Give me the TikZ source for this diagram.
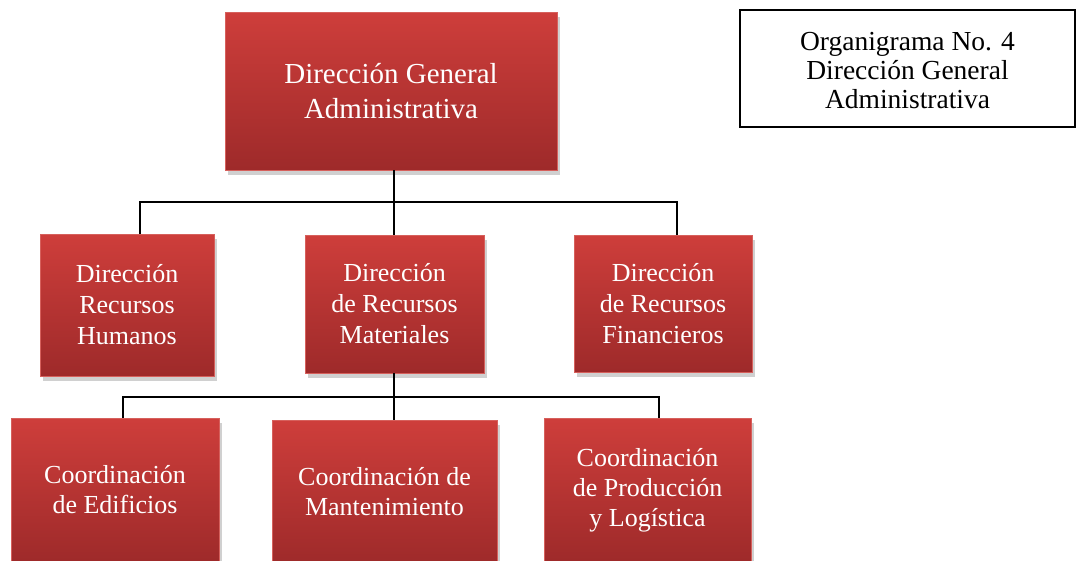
\documentclass[tikz,border=0pt]{standalone}
\usepackage{fontspec}
\setmainfont{Liberation Serif}
\usetikzlibrary{shadows}
\definecolor{redtop}{RGB}{206,62,59}
\definecolor{redbot}{RGB}{158,42,42}
\definecolor{redline}{RGB}{214,96,92}
\tikzset{
  redbox/.style={draw=redline, line width=0.8pt, top color=redtop, bottom color=redbot,
    text=white, align=center, inner sep=2pt,
    drop shadow={shadow xshift=3pt, shadow yshift=-5pt, opacity=0.3, fill=black!60}},
  legendbox/.style={draw=black, line width=1.5pt, fill=white, align=center, inner sep=2pt},
  conn/.style={draw=black, line width=2pt}
}
\begin{document}
\begin{tikzpicture}[x=1pt,y=-1pt]
\useasboundingbox (0,0) rectangle (1078,560);
\clip (0,0) rectangle (1078,560);
\fill[white] (0,0) rectangle (1078,560);
% nodes
\node[redbox, minimum width=332pt, minimum height=158pt, font=\fontsize{29}{35}\selectfont] (top) at (391,91) {Dirección General\\Administrativa};
\node[legendbox, minimum width=335pt, minimum height=117pt] (leg) at (907.5,68.5) {};
\node[align=center, font=\fontsize{27.5}{29}\selectfont, inner sep=0pt] (legtxt) at (907.5,71) {Organigrama No. 4\\Dirección General\\Administrativa};
\node[redbox, minimum width=174pt, minimum height=142pt, font=\fontsize{26}{31}\selectfont] (m1) at (127,305) {Dirección\\Recursos\\Humanos};
\node[redbox, minimum width=179pt, minimum height=138pt, font=\fontsize{26}{31}\selectfont] (m2) at (394.5,304) {Dirección\\de Recursos\\Materiales};
\node[redbox, minimum width=178pt, minimum height=137pt, font=\fontsize{26}{31}\selectfont] (m3) at (663,303.5) {Dirección\\de Recursos\\Financieros};
\node[redbox, minimum width=208pt, minimum height=144pt, font=\fontsize{26}{30}\selectfont] (b1) at (115,490) {Coordinación\\de Edificios};
\node[redbox, minimum width=225pt, minimum height=144pt, font=\fontsize{26}{30}\selectfont] (b2) at (384.5,492) {Coordinación de\\Mantenimiento};
\node[redbox, minimum width=207pt, minimum height=144pt, font=\fontsize{26}{30}\selectfont] (b3) at (647.5,490) {Coordinación\\de Producción\\y Logística};
% connectors
\coordinate (vx) at (394,0);
\coordinate (busL) at (140,202);
\coordinate (busR) at (677,202);
\coordinate (bus2L) at (123,397);
\coordinate (bus2R) at (659,397);
\draw[conn] (vx |- top.south) -- (vx |- m2.north);
\draw[conn] (busL |- m1.north) -- (busL) -- (busR) -- (busR |- m3.north);
\draw[conn] (vx |- m2.south) -- (vx |- b2.north);
\draw[conn] (bus2L |- b1.north) -- (bus2L) -- (bus2R) -- (bus2R |- b3.north);
\end{tikzpicture}
\end{document}
